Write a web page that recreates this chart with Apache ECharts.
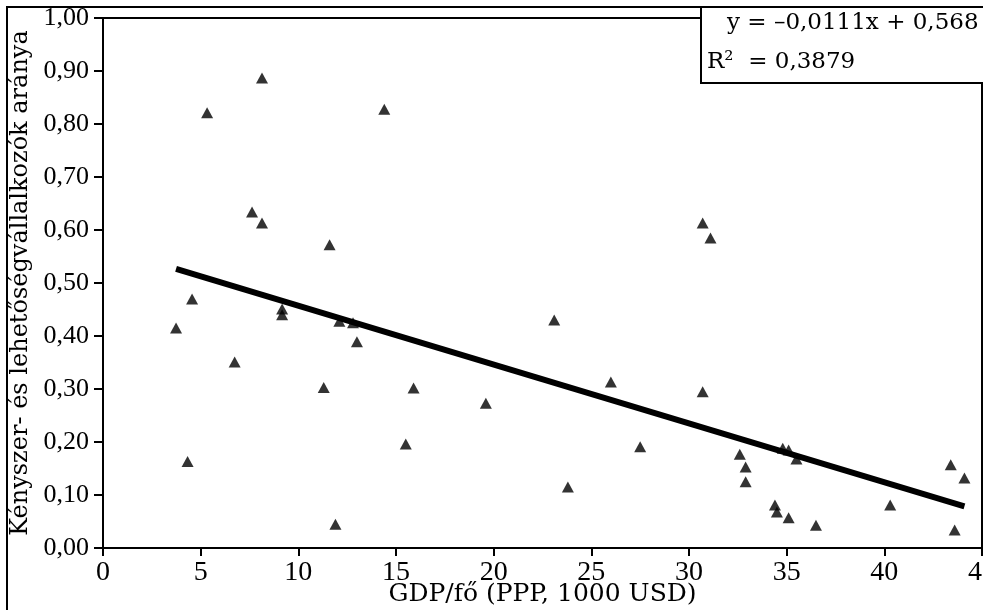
<!DOCTYPE html>
<html>
<head>
<meta charset="utf-8">
<script src="https://cdn.jsdelivr.net/npm/echarts@6/dist/echarts.min.js"></script>
<style>
html,body{margin:0;padding:0;background:#fff;}
#chart{width:983px;height:610px;}
</style>
</head>
<body>
<div id="chart"></div>
<script>
// GDP/fő (1000 USD)
var gdp = [3.74, 4.33, 4.56, 5.33, 6.74, 7.63, 8.14, 8.14, 9.17, 9.17,
	11.3, 11.6, 11.9, 12.1, 12.8, 13.0, 14.4, 15.5, 15.9, 19.6,
	23.1, 23.8, 26.0, 27.5, 30.7, 30.7, 31.1, 32.6, 32.9, 32.9,
	34.8, 35.1, 35.5, 34.4, 34.5, 35.1, 36.5, 40.3, 43.4, 44.1, 43.6];
// kényszer- és lehetőségvállalkozók aránya
var arany = [0.415, 0.163, 0.470, 0.821, 0.351, 0.634, 0.887, 0.613, 0.451, 0.440,
	0.303, 0.572, 0.045, 0.428, 0.425, 0.389, 0.828, 0.196, 0.302, 0.273,
	0.430, 0.115, 0.313, 0.191, 0.613, 0.295, 0.585, 0.177, 0.153, 0.125,
	0.188, 0.185, 0.168, 0.081, 0.068, 0.057, 0.043, 0.081, 0.157, 0.132, 0.034];
// trendvonal
var slope = -0.0111;
var intercept = 0.568;
var r2 = '0,3879';

var fnt = '"DejaVu Serif", serif';
var numFnt = '"Liberation Serif", serif';

var pts = [];
for (var i = 0; i < gdp.length; i++) {
	pts.push([gdp[i], arany[i]]);
}
var xMin = Math.min.apply(null, gdp);
var xMax = Math.max.apply(null, gdp);
var trend = [[xMin, intercept + slope * xMin], [xMax, intercept + slope * xMax]];

function comma(v) {
	return v.toFixed(2).replace('.', ',');
}

var myChart = echarts.init(document.getElementById('chart'));
var option = {
	backgroundColor: '#fff',
	animation: false,
	grid: {
		left: 103, top: 18, right: 1, bottom: 62,
		outerBoundsMode: 'none',
		containLabel: false,
		show: true, borderColor: '#000', borderWidth: 2
	},
	xAxis: {
		type: 'value', min: 0, max: 45, interval: 5,
		name: 'GDP/fő (PPP, 1000 USD)',
		nameLocation: 'middle', nameGap: 34,
		nameMoveOverlap: false,
		nameTextStyle: { fontFamily: fnt, fontSize: 25, color: '#000' },
		axisLine: { lineStyle: { color: '#000', width: 2 } },
		axisTick: { length: 8, lineStyle: { color: '#000', width: 2 } },
		axisLabel: { fontFamily: numFnt, fontSize: 28, color: '#000', margin: 11 },
		splitLine: { show: false }
	},
	yAxis: {
		type: 'value', min: 0, max: 1, interval: 0.1,
		name: 'Kényszer- és lehetőségvállalkozók aránya',
		nameLocation: 'middle', nameGap: 70,
		nameTextStyle: { fontFamily: fnt, fontSize: 24, color: '#000' },
		axisLine: { lineStyle: { color: '#000', width: 2 } },
		axisTick: { length: 9, lineStyle: { color: '#000', width: 2 } },
		axisLabel: { fontFamily: numFnt, fontSize: 26, color: '#000', margin: 14, formatter: comma },
		splitLine: { show: false }
	},
	graphic: [
		{
			type: 'rect', z: 100,
			shape: { x: 7, y: 7, width: 990, height: 620 },
			style: { fill: null, stroke: '#000', lineWidth: 2 }
		},
		{
			type: 'rect', z: 100,
			shape: { x: 701, y: 7, width: 300, height: 76 },
			style: { fill: '#fff', stroke: '#000', lineWidth: 2 }
		},
		{
			type: 'text', z: 101, left: 727, top: 12,
			style: { text: 'y = –0,0111x + 0,568', font: '23px "DejaVu Serif"', fill: '#000' }
		},
		{
			type: 'text', z: 101, left: 707, top: 51,
			style: { text: 'R²  = ' + r2, font: '23px "DejaVu Serif"', fill: '#000' }
		}
	],
	series: [
		{
			type: 'scatter',
			data: pts,
			symbol: 'triangle',
			symbolSize: [12, 11],
			itemStyle: { color: '#000' }
		},
		{
			type: 'line',
			data: trend,
			symbol: 'none',
			lineStyle: { color: '#000', width: 6 },
			z: 3
		}
	]
};
myChart.setOption(option);
</script>
</body>
</html>
